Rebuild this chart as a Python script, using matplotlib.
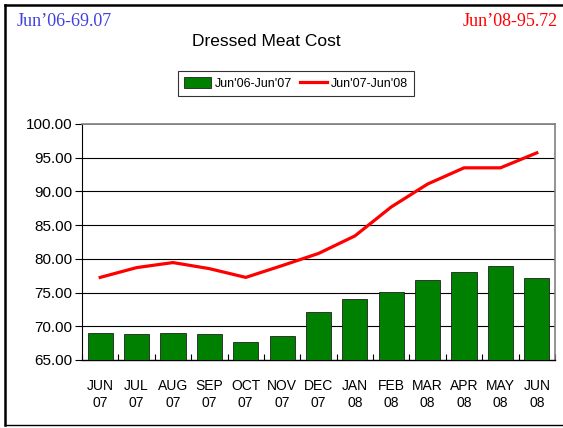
import matplotlib
matplotlib.use("Agg")
import matplotlib.pyplot as plt
from matplotlib.lines import Line2D
import numpy as np

months = ["JUN\n07", "JUL\n07", "AUG\n07", "SEP\n07", "OCT\n07", "NOV\n07", "DEC\n07",
          "JAN\n08", "FEB\n08", "MAR\n08", "APR\n08", "MAY\n08", "JUN\n08"]
bars_0607 = [69.07, 68.9, 69.05, 68.9, 67.7, 68.55, 72.05, 74.1, 75.15, 76.9, 78.1, 79.0, 77.2]
line_0708 = [77.25, 78.7, 79.45, 78.55, 77.25, 79.0, 80.8, 83.4, 87.7, 91.1, 93.5, 93.5, 95.72]
yticks = [65, 70, 75, 80, 85, 90, 95, 100]

plt.rcParams['font.family'] = ['Liberation Sans', 'DejaVu Sans']

fig = plt.figure(figsize=(5.63, 4.28), dpi=100)
ax = fig.add_axes([82/563, 1-360/428, (555-82)/563, (360-124)/428])

x = np.arange(len(months))
b = ax.bar(x, [v - 65 for v in bars_0607], bottom=65, width=0.69, color="#008000",
           edgecolor="#202020", linewidth=0.6, label="Jun'06-Jun'07", zorder=3)
l, = ax.plot(x, line_0708, color="#FF0000", linewidth=2.3, label="Jun'07-Jun'08", zorder=4)

ax.set_xlim(-0.5, len(months) - 0.5)
ax.set_ylim(65, 100)
ax.set_yticks(yticks)
ax.set_yticklabels([f"{v:.2f}" for v in yticks], fontsize=11)
ax.set_xticks(x)
ax.set_xticklabels(months, fontsize=10)
ax.tick_params(axis='x', length=0, pad=14)
ax.set_xticks(np.arange(-0.5, len(months) + 0.5, 1), minor=True)
ax.tick_params(axis='x', which='minor', length=4, direction='in', width=0.8)
ax.tick_params(axis='y', length=5, width=0.8, pad=2)

for v in yticks[1:-1]:
    ax.axhline(v, color="black", linewidth=0.8, zorder=1)
ax.axhline(100, color="#808080", linewidth=1.2, zorder=1)

ax.spines['top'].set_color("#808080")
ax.spines['right'].set_color("#808080")
ax.spines['top'].set_linewidth(1.2)
ax.spines['right'].set_linewidth(1.2)
ax.spines['left'].set_linewidth(0.8)
ax.spines['bottom'].set_linewidth(1.0)

fig.text(266/563, 1-42/428, "Dressed Meat Cost", fontsize=12.5, ha='center', va='center')
fig.text(17/563, 1-22/428, "Jun\u201906-69.07", fontsize=13, color="#4040E0",
         family=['Liberation Serif'], ha='left', va='center')
fig.text(558/563, 1-22/428, "Jun\u201908-95.72", fontsize=13, color="#FF0000",
         family=['Liberation Serif'], ha='right', va='center')

leg = fig.legend([b, l], ["Jun'06-Jun'07", "Jun'07-Jun'08"], loc='center',
                 bbox_to_anchor=(296/563, 1-83.5/428), ncol=2, fontsize=9,
                 frameon=True, fancybox=False, edgecolor="black", handlelength=2.2,
                 handleheight=0.9, handletextpad=0.3, columnspacing=0.6, borderpad=0.5)
leg.get_frame().set_linewidth(0.8)

# outer frame
fig.add_artist(Line2D([5/563, 5/563], [3/428, 1-5/428], transform=fig.transFigure, color="black", linewidth=1.8))
fig.add_artist(Line2D([5/563, 1.0], [1-5/428, 1-5/428], transform=fig.transFigure, color="black", linewidth=1.8))
fig.add_artist(Line2D([5/563, 1.0], [3/428, 3/428], transform=fig.transFigure, color="black", linewidth=1.0))

fig.savefig("out.png", dpi=100)
